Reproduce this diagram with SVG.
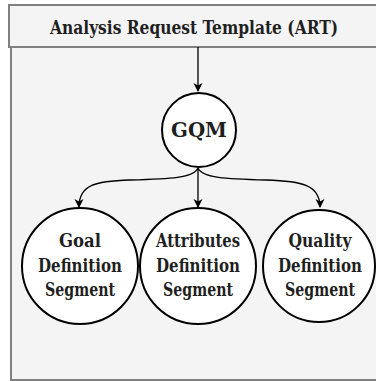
<svg xmlns="http://www.w3.org/2000/svg" width="376" height="381" viewBox="0 0 376 381">
<defs>
<style>
.t{font-family:'DejaVu Serif Condensed','DejaVu Serif',serif;font-stretch:condensed;font-weight:bold;fill:#1f1f1f;text-anchor:middle}
.c{fill:#ffffff;stroke:#000;stroke-width:2}
.e{fill:none;stroke:#000;stroke-width:1.3}
</style>
<marker id="ah" markerWidth="10" markerHeight="11" refX="8" refY="5" orient="auto" markerUnits="userSpaceOnUse">
<path d="M0,0.5 L9,5 L0,9.5 L2.5,5 Z" fill="#000"/>
</marker>
</defs>
<rect width="376" height="381" fill="#ffffff"/>
<g id="container">
<rect x="11" y="47" width="370" height="333" fill="#f4f4f4" stroke="#808080" stroke-width="2"/>
<rect x="9" y="5" width="372" height="42" fill="#f4f4f4" stroke="#808080" stroke-width="2"/>
<text class="t" x="194" y="34" font-size="18" textLength="288" lengthAdjust="spacingAndGlyphs">Analysis Request Template (ART)</text>
</g>
<g id="connectors">
<path class="e" d="M198,47 L198,91" marker-end="url(#ah)"/>
<path class="e" d="M198,168 C194,178 170,179 130,180 C95,181 79,185 79,207" marker-end="url(#ah)"/>
<path class="e" d="M198,168 L198,207" marker-end="url(#ah)"/>
<path class="e" d="M198,168 C202,178 226,179 266,180 C302,181 320,185 320,207" marker-end="url(#ah)"/>
</g>
<g id="gqm">
<circle class="c" cx="199" cy="130" r="37"/>
<text class="t" x="199" y="137" font-size="20" textLength="56" lengthAdjust="spacingAndGlyphs">GQM</text>
</g>
<g id="goal">
<circle class="c" cx="80" cy="266" r="58"/>
<text class="t" font-size="18"><tspan x="80" y="247" textLength="42" lengthAdjust="spacingAndGlyphs">Goal</tspan><tspan x="80" y="272" textLength="84" lengthAdjust="spacingAndGlyphs">Definition</tspan><tspan x="80" y="296" textLength="70" lengthAdjust="spacingAndGlyphs">Segment</tspan></text>
</g>
<g id="attributes">
<circle class="c" cx="198" cy="266" r="58"/>
<text class="t" font-size="18"><tspan x="198" y="247" textLength="84" lengthAdjust="spacingAndGlyphs">Attributes</tspan><tspan x="198" y="272" textLength="84" lengthAdjust="spacingAndGlyphs">Definition</tspan><tspan x="198" y="296" textLength="70" lengthAdjust="spacingAndGlyphs">Segment</tspan></text>
</g>
<g id="quality">
<circle class="c" cx="319" cy="266" r="56"/>
<text class="t" font-size="18"><tspan x="320" y="247" textLength="63" lengthAdjust="spacingAndGlyphs">Quality</tspan><tspan x="320" y="272" textLength="84" lengthAdjust="spacingAndGlyphs">Definition</tspan><tspan x="320" y="296" textLength="70" lengthAdjust="spacingAndGlyphs">Segment</tspan></text>
</g>
</svg>
